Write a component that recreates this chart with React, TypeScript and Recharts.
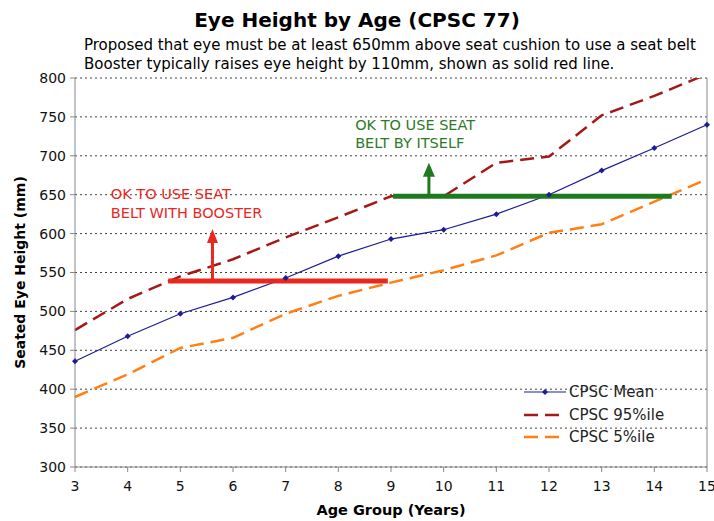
import React from 'react';
import {
  LineChart,
  Line,
  XAxis,
  YAxis,
  CartesianGrid,
  ReferenceLine,
  ReferenceDot,
  Legend,
} from 'recharts';

const ages = [3, 4, 5, 6, 7, 8, 9, 10, 11, 12, 13, 14, 15];
const meanValues = [436, 468, 497, 518, 543, 571, 593, 605, 625, 650, 681, 710, 740];
const p95Values = [476, 516, 545, 567, 595, 621, 648, 648, 691, 699, 752, 777, 805];
const p5Values = [390, 419, 453, 466, 497, 520, 537, 553, 572, 601, 612, 641, 670];
const yTicks = [300, 350, 400, 450, 500, 550, 600, 650, 700, 750, 800];

// annotation values (age, mm)
const boosterSpan = [4.77, 8.94];
const boosterHeight = 539;
const boosterArrow = { x: 5.61, tip: 606 };
const beltSpan = [9.04, 14.33];
const beltHeight = 648;
const beltArrow = { x: 9.72, tip: 691 };
const boosterNote = { x: 3.68, lines: ['OK TO USE SEAT', 'BELT WITH BOOSTER'], y: [651, 626] };
const beltNote = { x: 8.32, lines: ['OK TO USE SEAT', 'BELT BY ITSELF'], y: [740, 716] };

const FONT = '"DejaVu Sans", Verdana, sans-serif';
const NAVY = '#1c1c96';
const DARK_RED = '#a51818';
const ORANGE = '#ff7f12';
const RED = '#e8281e';
const GREEN = '#1f7a1f';

const data = ages.map((age, i) => ({
  age,
  mean: meanValues[i],
  p95: p95Values[i],
  p5: p5Values[i],
}));

const renderDiamond = (props: any) => {
  const { cx, cy, index } = props;
  if (cx == null || cy == null) return <g key={`d-${index}`} />;
  return (
    <polygon
      key={`d-${index}`}
      points={`${cx},${cy - 3} ${cx + 3},${cy} ${cx},${cy + 3} ${cx - 3},${cy}`}
      fill={NAVY}
    />
  );
};

const arrowHead = (color: string, w: number, h: number) => (props: any) => {
  const { cx, cy } = props;
  return (
    <polygon
      points={`${cx},${cy} ${cx - w / 2},${cy + h} ${cx + w / 2},${cy + h}`}
      fill={color}
    />
  );
};

const noteText = (text: string, color: string) => (props: any) => (
  <text
    x={props.cx}
    y={props.cy}
    fill={color}
    fontSize={14.5}
    fontFamily={FONT}
    dominantBaseline="central"
  >
    {text}
  </text>
);

const legendItems = [
  { name: 'CPSC Mean', color: NAVY, dash: undefined, width: 1.2, marker: true },
  { name: 'CPSC 95%ile', color: DARK_RED, dash: '14 7', width: 2.5, marker: false },
  { name: 'CPSC 5%ile', color: ORANGE, dash: '14 7', width: 2.5, marker: false },
];

const renderLegend = () => (
  <div style={{ fontFamily: FONT, fontSize: 15, color: '#222' }}>
    {legendItems.map((item) => (
      <div key={item.name} style={{ display: 'flex', alignItems: 'center', height: 22.5 }}>
        <svg width={44} height={10} style={{ marginRight: 2 }}>
          <line
            x1={1}
            y1={5}
            x2={43}
            y2={5}
            stroke={item.color}
            strokeWidth={item.width}
            strokeDasharray={item.dash}
          />
          {item.marker && <polygon points="22,2 25,5 22,8 19,5" fill={item.color} />}
        </svg>
        <span>{item.name}</span>
      </div>
    ))}
  </div>
);

export default function App() {
  return (
    <div style={{ position: 'absolute', left: 0, top: 0, width: 714, height: 521, background: '#fff' }}>
      <div
        style={{
          position: 'absolute',
          left: 0,
          width: 714,
          top: 8,
          textAlign: 'center',
          fontFamily: FONT,
          fontWeight: 'bold',
          fontSize: 20,
          color: '#000',
        }}
      >
        Eye Height by Age (CPSC 77)
      </div>
      <div
        style={{
          position: 'absolute',
          left: 84,
          top: 36,
          fontFamily: FONT,
          fontSize: 15,
          lineHeight: '19px',
          color: '#000',
          whiteSpace: 'nowrap',
        }}
      >
        Proposed that eye must be at least 650mm above seat cushion to use a seat belt
        <br />
        Booster typically raises eye height by 110mm, shown as solid red line.
      </div>
      <LineChart
        width={714}
        height={521}
        data={data}
        margin={{ top: 78, right: 7, left: 0, bottom: 0 }}
      >
        <CartesianGrid vertical={false} stroke="#444" strokeDasharray="2 3" />
        <XAxis
          dataKey="age"
          type="number"
          domain={[3, 15]}
          ticks={ages}
          height={54}
          stroke="#888"
          tickSize={5}
          tickMargin={9}
          tick={{ fill: '#111', fontSize: 14, fontFamily: FONT }}
          label={{
            content: ({ viewBox }: any) => (
              <text
                x={viewBox.x + viewBox.width / 2}
                y={viewBox.y + 43}
                textAnchor="middle"
                dominantBaseline="central"
                fontFamily={FONT}
                fontWeight="bold"
                fontSize={14.5}
                fill="#000"
              >
                Age Group (Years)
              </text>
            ),
          }}
        />
        <YAxis
          type="number"
          domain={[300, 800]}
          ticks={yTicks}
          allowDataOverflow
          width={75}
          stroke="#888"
          tickSize={5}
          tickMargin={4}
          tick={{ fill: '#111', fontSize: 14, fontFamily: FONT }}
          label={{
            content: ({ viewBox }: any) => {
              const x = 20;
              const y = viewBox.y + viewBox.height / 2;
              return (
                <text
                  x={x}
                  y={y}
                  transform={`rotate(-90 ${x} ${y})`}
                  textAnchor="middle"
                  dominantBaseline="central"
                  fontFamily={FONT}
                  fontWeight="bold"
                  fontSize={14}
                  fill="#000"
                >
                  Seated Eye Height (mm)
                </text>
              );
            },
          }}
        />
        <ReferenceLine x={15} stroke="#888" strokeWidth={1} />
        <Legend
          layout="vertical"
          align="center"
          verticalAlign="middle"
          content={renderLegend}
          wrapperStyle={{ left: 523, top: 381, width: 190 }}
        />
        <Line
          dataKey="p5"
          name="CPSC 5%ile"
          stroke={ORANGE}
          strokeWidth={2.5}
          strokeDasharray="14 7"
          dot={false}
          isAnimationActive={false}
        />
        <Line
          dataKey="p95"
          name="CPSC 95%ile"
          stroke={DARK_RED}
          strokeWidth={2.5}
          strokeDasharray="14 7"
          dot={false}
          isAnimationActive={false}
        />
        <Line
          dataKey="mean"
          name="CPSC Mean"
          stroke={NAVY}
          strokeWidth={1.2}
          dot={renderDiamond}
          isAnimationActive={false}
        />
        <ReferenceLine
          segment={[
            { x: boosterSpan[0], y: boosterHeight },
            { x: boosterSpan[1], y: boosterHeight },
          ]}
          stroke={RED}
          strokeWidth={5}
        />
        <ReferenceLine
          segment={[
            { x: boosterArrow.x, y: boosterHeight },
            { x: boosterArrow.x, y: boosterArrow.tip - 12 },
          ]}
          stroke={RED}
          strokeWidth={3}
        />
        <ReferenceDot x={boosterArrow.x} y={boosterArrow.tip} r={0} shape={arrowHead(RED, 11, 14)} />
        <ReferenceLine
          segment={[
            { x: beltSpan[0], y: beltHeight },
            { x: beltSpan[1], y: beltHeight },
          ]}
          stroke={GREEN}
          strokeWidth={5}
        />
        <ReferenceLine
          segment={[
            { x: beltArrow.x, y: beltHeight },
            { x: beltArrow.x, y: beltArrow.tip - 12 },
          ]}
          stroke={GREEN}
          strokeWidth={3}
        />
        <ReferenceDot x={beltArrow.x} y={beltArrow.tip} r={0} shape={arrowHead(GREEN, 12, 14)} />
        {boosterNote.lines.map((line, i) => (
          <ReferenceDot
            key={`bn-${i}`}
            x={boosterNote.x}
            y={boosterNote.y[i]}
            r={0}
            shape={noteText(line, RED)}
          />
        ))}
        {beltNote.lines.map((line, i) => (
          <ReferenceDot
            key={`gn-${i}`}
            x={beltNote.x}
            y={beltNote.y[i]}
            r={0}
            shape={noteText(line, '#2f7a2a')}
          />
        ))}
      </LineChart>
    </div>
  );
}
